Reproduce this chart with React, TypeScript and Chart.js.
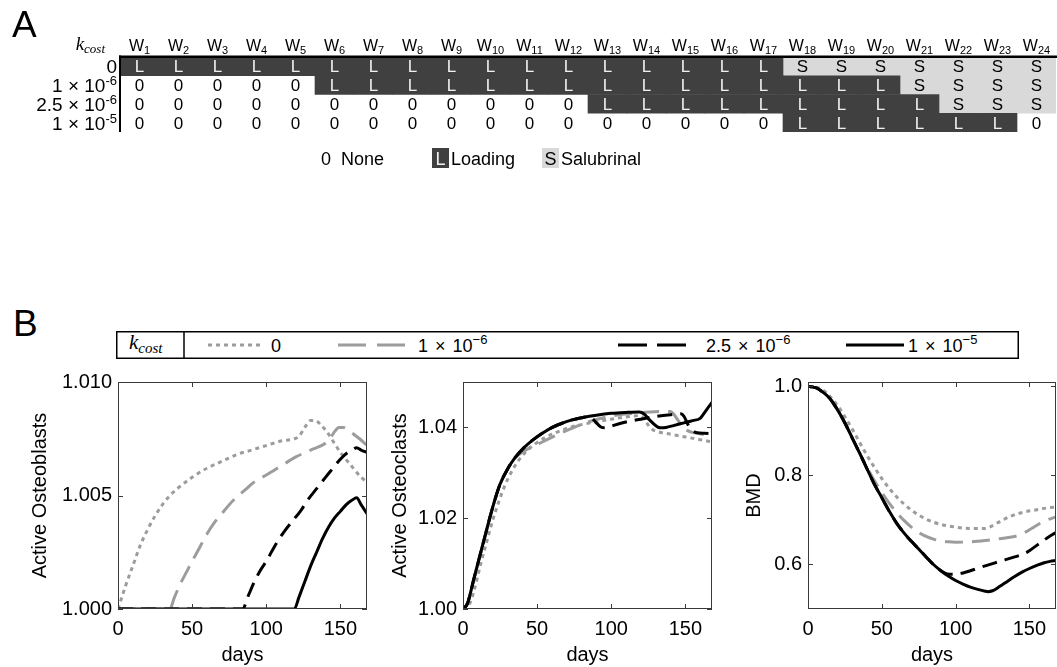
import React, { useEffect, useRef } from 'react';
import { Chart, registerables } from 'chart.js';

Chart.register(...registerables);

const SANS = '"Liberation Sans", Arial, Helvetica, sans-serif';
const SERIF = '"Liberation Serif", "DejaVu Serif", "Times New Roman", serif';

// ---------------- Panel A data ----------------
const WEEK_NUMBERS = [1, 2, 3, 4, 5, 6, 7, 8, 9, 10, 11, 12, 13, 14, 15, 16, 17, 18, 19, 20, 21, 22, 23, 24];
const K_COST_BASES = ['0', '1 × 10', '2.5 × 10', '1 × 10'];
const K_COST_EXPONENTS = ['', '-6', '-6', '-5'];
const PLAN_K_0 = ['L', 'L', 'L', 'L', 'L', 'L', 'L', 'L', 'L', 'L', 'L', 'L', 'L', 'L', 'L', 'L', 'L', 'S', 'S', 'S', 'S', 'S', 'S', 'S'];
const PLAN_K_1E6 = ['0', '0', '0', '0', '0', 'L', 'L', 'L', 'L', 'L', 'L', 'L', 'L', 'L', 'L', 'L', 'L', 'L', 'L', 'L', 'S', 'S', 'S', 'S'];
const PLAN_K_2_5E6 = ['0', '0', '0', '0', '0', '0', '0', '0', '0', '0', '0', '0', 'L', 'L', 'L', 'L', 'L', 'L', 'L', 'L', 'L', 'S', 'S', 'S'];
const PLAN_K_1E5 = ['0', '0', '0', '0', '0', '0', '0', '0', '0', '0', '0', '0', '0', '0', '0', '0', '0', 'L', 'L', 'L', 'L', 'L', 'L', '0'];
const PLANS = [PLAN_K_0, PLAN_K_1E6, PLAN_K_2_5E6, PLAN_K_1E5];
const LEGEND_CODES = ['0', 'L', 'S'];
const LEGEND_NAMES = ['None', 'Loading', 'Salubrinal'];

// ---------------- Panel B data ----------------
const X_TICKS = [0, 50, 100, 150];
const DAYS_MAX = 168;
const SERIES_BASES = ['0', '1 × 10', '2.5 × 10', '1 × 10'];
const SERIES_EXPONENTS = ['', '−6', '−6', '−5'];

const OB_K0 = [[0, 1.0], [2, 1.0004], [5, 1.001], [10, 1.0019], [15, 1.0028], [20, 1.0035], [25, 1.0041], [30, 1.0046], [35, 1.005], [40, 1.0053], [50, 1.0058], [60, 1.0062], [70, 1.0065], [80, 1.0068], [90, 1.007], [100, 1.0072], [110, 1.0074], [119, 1.0075], [122, 1.0076], [126, 1.008], [130, 1.0083], [133, 1.0083], [137, 1.0081], [141, 1.0078], [146, 1.0073], [150, 1.0069], [155, 1.0065], [160, 1.0061], [164, 1.0058], [168, 1.0056]];
const OB_K1E6 = [[0, 1], [35, 1], [38, 1.0005], [42, 1.0011], [46, 1.0016], [50, 1.0021], [55, 1.0027], [60, 1.0033], [65, 1.0038], [70, 1.0042], [78, 1.0048], [85, 1.0052], [92, 1.0056], [100, 1.0059], [110, 1.0063], [120, 1.0067], [130, 1.007], [140, 1.0073], [143, 1.0075], [146, 1.0078], [149, 1.008], [152, 1.008], [155, 1.0079], [159, 1.0077], [163, 1.0075], [168, 1.0072]];
const OB_K2_5E6 = [[0, 1], [84, 1], [88, 1.0006], [92, 1.0012], [96, 1.0017], [100, 1.0021], [106, 1.0028], [112, 1.0034], [118, 1.0039], [123, 1.0043], [128, 1.0048], [134, 1.0053], [140, 1.0058], [145, 1.0062], [150, 1.0066], [155, 1.0069], [158, 1.007], [161, 1.0071], [164, 1.007], [168, 1.0069]];
const OB_K1E5 = [[0, 1], [119, 1], [122, 1.0005], [126, 1.0012], [130, 1.0019], [134, 1.0025], [138, 1.0031], [142, 1.0036], [146, 1.004], [150, 1.0043], [154, 1.0046], [158, 1.0048], [161, 1.0049], [164, 1.0046], [168, 1.0042]];

const OC_K0 = [[0, 1.0], [3, 1.0005], [5, 1.0015], [7, 1.0035], [9, 1.006], [12, 1.01], [16, 1.0148], [20, 1.0195], [24, 1.0235], [28, 1.027], [32, 1.0298], [37, 1.0325], [42, 1.0345], [48, 1.0362], [55, 1.0377], [63, 1.0389], [72, 1.04], [86, 1.041], [100, 1.0418], [110, 1.0423], [119, 1.0426], [122, 1.042], [125, 1.0405], [128, 1.0395], [132, 1.039], [140, 1.0385], [150, 1.0379], [160, 1.0373], [168, 1.0368]];
const OC_K1E6 = [[0, 1.0], [3, 1.0012], [5, 1.0035], [7, 1.0062], [10, 1.01], [14, 1.015], [18, 1.02], [21, 1.0235], [25, 1.0275], [30, 1.0308], [35, 1.0333], [40, 1.0345], [45, 1.0355], [50, 1.0362], [56, 1.0372], [63, 1.0383], [72, 1.0396], [81, 1.0408], [92, 1.0419], [104, 1.0427], [115, 1.0431], [126, 1.0434], [133, 1.0435], [140, 1.0435], [142, 1.043], [145, 1.0416], [148, 1.0403], [151, 1.0394], [156, 1.0388], [162, 1.0385], [168, 1.0383]];
const OC_K2_5E6 = [[0, 1.0], [3, 1.0012], [5, 1.0035], [7, 1.0062], [10, 1.01], [14, 1.015], [18, 1.02], [21, 1.0235], [25, 1.0275], [30, 1.0308], [35, 1.0333], [41, 1.0355], [47, 1.0372], [53, 1.0386], [59, 1.0398], [66, 1.0408], [73, 1.0416], [81, 1.0422], [84, 1.0424], [87, 1.042], [90, 1.041], [93, 1.0401], [96, 1.0399], [100, 1.0403], [110, 1.0412], [120, 1.0418], [130, 1.0424], [140, 1.0428], [147, 1.043], [149, 1.0425], [152, 1.0405], [155, 1.0393], [158, 1.0388], [163, 1.0387], [168, 1.0386]];
const OC_K1E5 = [[0, 1.0], [3, 1.0012], [5, 1.0035], [7, 1.0062], [10, 1.01], [14, 1.015], [18, 1.02], [21, 1.0235], [25, 1.0275], [30, 1.0308], [35, 1.0333], [41, 1.0355], [47, 1.0372], [53, 1.0386], [59, 1.0398], [66, 1.0408], [73, 1.0416], [81, 1.0422], [90, 1.0427], [100, 1.0431], [110, 1.0433], [119, 1.0434], [122, 1.043], [126, 1.0416], [130, 1.0404], [133, 1.0399], [137, 1.04], [142, 1.0404], [149, 1.041], [155, 1.0415], [160, 1.042], [162, 1.0428], [165, 1.0442], [168, 1.0455]];

const BMD_K0 = [[0, 1.0], [3, 0.9995], [6, 0.998], [9, 0.994], [12, 0.987], [15, 0.977], [20, 0.957], [25, 0.932], [30, 0.904], [35, 0.874], [40, 0.845], [45, 0.818], [50, 0.793], [55, 0.771], [60, 0.752], [65, 0.736], [70, 0.722], [75, 0.711], [80, 0.702], [85, 0.695], [90, 0.69], [100, 0.684], [110, 0.681], [119, 0.681], [123, 0.684], [127, 0.691], [132, 0.7], [137, 0.708], [142, 0.714], [148, 0.719], [155, 0.723], [162, 0.727], [168, 0.729]];
const BMD_K1E6 = [[0, 1.0], [3, 0.999], [6, 0.996], [9, 0.99], [12, 0.982], [15, 0.972], [18, 0.958], [21, 0.942], [25, 0.918], [30, 0.884], [35, 0.85], [40, 0.818], [45, 0.788], [50, 0.762], [55, 0.738], [60, 0.717], [65, 0.699], [70, 0.684], [75, 0.672], [80, 0.663], [85, 0.657], [90, 0.653], [95, 0.651], [100, 0.65], [110, 0.651], [120, 0.654], [130, 0.658], [140, 0.663], [143, 0.666], [147, 0.672], [152, 0.682], [157, 0.692], [162, 0.7], [168, 0.707]];
const BMD_K2_5E6 = [[0, 1.0], [3, 0.999], [6, 0.996], [9, 0.99], [12, 0.982], [15, 0.972], [18, 0.958], [21, 0.942], [25, 0.918], [30, 0.884], [35, 0.85], [40, 0.815], [45, 0.78], [50, 0.75], [55, 0.72], [60, 0.693], [65, 0.671], [70, 0.652], [75, 0.635], [80, 0.617], [84, 0.603], [88, 0.591], [92, 0.582], [96, 0.578], [100, 0.578], [105, 0.581], [110, 0.586], [120, 0.597], [130, 0.607], [140, 0.617], [147, 0.625], [150, 0.631], [155, 0.643], [160, 0.655], [164, 0.664], [168, 0.672]];
const BMD_K1E5 = [[0, 1.0], [3, 0.999], [6, 0.996], [9, 0.99], [12, 0.982], [15, 0.972], [18, 0.958], [21, 0.942], [25, 0.918], [30, 0.884], [35, 0.85], [40, 0.815], [45, 0.78], [50, 0.75], [55, 0.72], [60, 0.693], [65, 0.671], [70, 0.652], [75, 0.635], [80, 0.617], [85, 0.6], [90, 0.586], [95, 0.574], [100, 0.564], [105, 0.556], [110, 0.549], [115, 0.544], [120, 0.54], [122, 0.539], [125, 0.541], [130, 0.551], [135, 0.562], [140, 0.573], [145, 0.583], [150, 0.591], [155, 0.598], [160, 0.604], [164, 0.607], [168, 0.609]];

// ---------------- styles ----------------
const GRAY = '#9c9c9c';
const STYLE_K0 = { color: GRAY, dash: [4, 4], legendDash: '4 4' };
const STYLE_K1E6 = { color: GRAY, dash: [18, 9], legendDash: '28 11' };
const STYLE_K2_5E6 = { color: '#000000', dash: [15, 8], legendDash: '29 10' };
const STYLE_K1E5 = { color: '#000000', dash: [] as number[], legendDash: '' };
const SERIES_STYLES = [STYLE_K0, STYLE_K1E6, STYLE_K2_5E6, STYLE_K1E5];

const CELL_COLORS: Record<string, string> = { L: '#404040', S: '#d9d9d9', '0': 'rgba(255,255,255,0)' };
const CELL_TEXT: Record<string, string> = { L: '#f0f0f0', S: '#000000', '0': '#000000' };

type Part = { text: string; size: number; dy?: number; family?: string; italic?: boolean };

function drawParts(ctx: CanvasRenderingContext2D, parts: Part[], x: number, baseline: number, align: 'left' | 'center' | 'right') {
  const fontOf = (p: Part) => `${p.italic ? 'italic ' : ''}${p.size}px ${p.family || SANS}`;
  let total = 0;
  const widths = parts.map((p) => {
    ctx.font = fontOf(p);
    const w = ctx.measureText(p.text).width;
    total += w;
    return w;
  });
  let cx = align === 'left' ? x : align === 'center' ? x - total / 2 : x - total;
  ctx.textAlign = 'left';
  ctx.textBaseline = 'alphabetic';
  parts.forEach((p, i) => {
    ctx.font = fontOf(p);
    ctx.fillText(p.text, cx, baseline + (p.dy || 0));
    cx += widths[i];
  });
}

const scheduleDecor = {
  id: 'scheduleDecor',
  afterDatasetsDraw(chart: any) {
    const ctx: CanvasRenderingContext2D = chart.ctx;
    const xs = chart.scales.x;
    const ys = chart.scales.y;
    const area = chart.chartArea;
    ctx.save();
    chart.data.datasets.forEach((_ds: any, w: number) => {
      const meta = chart.getDatasetMeta(w);
      meta.data.forEach((el: any, r: number) => {
        const code = PLANS[r][w];
        ctx.fillStyle = CELL_TEXT[code];
        drawParts(ctx, [{ text: code, size: 17 }], (el.x + el.base) / 2, el.y + 6, 'center');
      });
    });
    ctx.fillStyle = '#000';
    ctx.fillRect(area.left - 1, area.top - 1.5, area.right - area.left + 2, 2.5);
    ctx.fillRect(area.left - 1, area.top - 1.5, 2, area.bottom - area.top + 1.5);
    WEEK_NUMBERS.forEach((n, w) => {
      const cx = xs.getPixelForValue(w + 0.5);
      drawParts(ctx, [{ text: 'W', size: 16 }, { text: String(n), size: 11, dy: 3 }], cx, area.top - 6, 'center');
    });
    drawParts(ctx, [{ text: 'k', size: 19, family: SERIF, italic: true }, { text: 'cost', size: 13, family: SERIF, italic: true, dy: 3 }], 105, area.top - 7, 'right');
    K_COST_BASES.forEach((b, r) => {
      const cy = ys.getPixelForValue(r);
      const parts: Part[] = [{ text: b, size: 19 }];
      if (K_COST_EXPONENTS[r]) parts.push({ text: K_COST_EXPONENTS[r], size: 13, dy: -7 });
      drawParts(ctx, parts, area.left - 3, cy + 7, 'right');
    });
    const ly = 158;
    LEGEND_CODES.forEach((code, i) => {
      ctx.fillStyle = '#000';
      if (code === '0') {
        drawParts(ctx, [{ text: code, size: 18 }], 326, ly + 6.5, 'center');
        drawParts(ctx, [{ text: LEGEND_NAMES[i], size: 18 }], 341, ly + 6.5, 'left');
      } else {
        const x0 = code === 'L' ? 432 : 542;
        ctx.fillStyle = CELL_COLORS[code];
        ctx.fillRect(x0, ly - 10, 17, 20);
        ctx.fillStyle = CELL_TEXT[code];
        drawParts(ctx, [{ text: code, size: 18 }], x0 + 8.5, ly + 6.5, 'center');
        ctx.fillStyle = '#000';
        drawParts(ctx, [{ text: LEGEND_NAMES[i], size: 18 }], x0 + 19, ly + 6.5, 'left');
      }
    });
    ctx.fillStyle = '#000';
    drawParts(ctx, [{ text: 'A', size: 37 }], 12, 37, 'left');
    ctx.restore();
  },
};

function makeScheduleChart(canvas: HTMLCanvasElement) {
  const datasets = WEEK_NUMBERS.map((n, w) => ({
    label: 'W' + n,
    data: PLANS.map(() => [w, w + 1]),
    backgroundColor: PLANS.map((p) => CELL_COLORS[p[w]]),
    borderWidth: 0,
    barPercentage: 1,
    categoryPercentage: 1,
    grouped: false,
  }));
  return new Chart(canvas, {
    type: 'bar',
    data: { labels: K_COST_BASES.map((b, i) => b + K_COST_EXPONENTS[i] + '#' + i), datasets: datasets as any },
    options: {
      indexAxis: 'y',
      animation: false,
      responsive: false,
      devicePixelRatio: 1,
      events: [],
      layout: { padding: { left: 120, right: 1, top: 57, bottom: 68 } },
      plugins: { legend: { display: false }, tooltip: { enabled: false } },
      scales: {
        x: { type: 'linear', min: 0, max: 24, display: false },
        y: { type: 'category', display: false, offset: true },
      },
    } as any,
    plugins: [scheduleDecor],
  });
}

const axesBox = {
  id: 'axesBox',
  afterDatasetsDraw(chart: any) {
    const ctx: CanvasRenderingContext2D = chart.ctx;
    const { left, right, top, bottom } = chart.chartArea;
    const xs = chart.scales.x;
    const ys = chart.scales.y;
    ctx.save();
    ctx.strokeStyle = '#3a3a3a';
    ctx.lineWidth = 1;
    ctx.strokeRect(left + 0.5, top + 0.5, right - left - 1, bottom - top - 1);
    ctx.beginPath();
    xs.ticks.forEach((t: any) => {
      const px = Math.round(xs.getPixelForValue(t.value)) + 0.5;
      ctx.moveTo(px, bottom); ctx.lineTo(px, bottom - 5);
      ctx.moveTo(px, top); ctx.lineTo(px, top + 5);
    });
    ys.ticks.forEach((t: any) => {
      const py = Math.round(ys.getPixelForValue(t.value)) + 0.5;
      ctx.moveTo(left, py); ctx.lineTo(left + 5, py);
      ctx.moveTo(right, py); ctx.lineTo(right - 5, py);
    });
    ctx.stroke();
    ctx.restore();
  },
};

type LineSpec = {
  series: number[][][];
  yMin: number;
  yMax: number;
  yTicks: number[];
  decimals: number;
  yTitle: string;
  yAxisWidth: number;
  titlePad: number;
  padRight: number;
};

function makeLineChart(canvas: HTMLCanvasElement, spec: LineSpec) {
  const font = { family: SANS, size: 20 };
  const order = [3, 2, 1, 0];
  const datasets = order.map((i) => ({
    label: SERIES_BASES[i] + SERIES_EXPONENTS[i],
    data: spec.series[i].map(([x, y]) => ({ x, y })),
    borderColor: SERIES_STYLES[i].color,
    borderDash: SERIES_STYLES[i].dash,
    borderWidth: 3,
    pointRadius: 0,
    fill: false,
    cubicInterpolationMode: 'monotone',
    borderCapStyle: 'butt',
    borderJoinStyle: 'round',
  }));
  return new Chart(canvas, {
    type: 'line',
    data: { datasets: datasets as any },
    options: {
      animation: false,
      responsive: false,
      devicePixelRatio: 1,
      events: [],
      layout: { padding: { left: 0, right: spec.padRight, top: 20, bottom: 0 } },
      plugins: { legend: { display: false }, tooltip: { enabled: false } },
      scales: {
        x: {
          type: 'linear',
          min: 0,
          max: DAYS_MAX,
          grid: { display: false, drawTicks: false },
          border: { display: false },
          afterBuildTicks: (s: any) => { s.ticks = X_TICKS.map((v) => ({ value: v })); },
          ticks: { font, color: '#000', padding: 8, maxRotation: 0, autoSkip: false, callback: (v: any) => String(v) },
          title: { display: true, text: 'days', font, color: '#000', padding: { top: 0, bottom: 0 } },
          afterFit: (s: any) => { s.height = 58; },
        },
        y: {
          type: 'linear',
          min: spec.yMin,
          max: spec.yMax,
          grid: { display: false, drawTicks: false },
          border: { display: false },
          afterBuildTicks: (s: any) => { s.ticks = spec.yTicks.map((v) => ({ value: v })); },
          ticks: { font, color: '#000', padding: 6, autoSkip: false, callback: (v: any) => Number(v).toFixed(spec.decimals) },
          title: { display: true, text: spec.yTitle, font, color: '#000', padding: { top: spec.titlePad, bottom: 0 } },
          afterFit: (s: any) => { s.width = spec.yAxisWidth; },
        },
      },
    } as any,
    plugins: [axesBox],
  });
}

function LegendB() {
  const sampleX = [[92, 148], [222, 289], [502, 570], [730, 788]];
  const textX = [155, 302, 590, 792];
  const lineY = 14;
  const baseY = 21;
  return (
    <svg width={904} height={28} style={{ position: 'absolute', left: 116, top: 331 }}>
      <rect x={0.75} y={0.75} width={901.5} height={26.5} fill="#fff" stroke="#000" strokeWidth={1.5} />
      <line x1={68} y1={0} x2={68} y2={28} stroke="#000" strokeWidth={1.5} />
      <text x={13} y={18} fontFamily={SERIF} fontStyle="italic" fontSize={21}>
        k<tspan fontSize={15} dy={4}>cost</tspan>
      </text>
      {SERIES_STYLES.map((st, i) => (
        <g key={i}>
          <line x1={sampleX[i][0]} y1={lineY} x2={sampleX[i][1]} y2={lineY} stroke={st.color} strokeWidth={3}
            strokeDasharray={st.legendDash || undefined} />
          <text x={textX[i]} y={baseY} fontFamily={SANS} fontSize={18} wordSpacing={2}>
            {SERIES_BASES[i]}
            {SERIES_EXPONENTS[i] ? <tspan fontSize={13} dy={-8}>{SERIES_EXPONENTS[i]}</tspan> : null}
          </text>
        </g>
      ))}
    </svg>
  );
}

export default function App() {
  const aRef = useRef<HTMLCanvasElement>(null);
  const ob = useRef<HTMLCanvasElement>(null);
  const oc = useRef<HTMLCanvasElement>(null);
  const bmd = useRef<HTMLCanvasElement>(null);

  useEffect(() => {
    const charts: Chart[] = [];
    charts.push(makeScheduleChart(aRef.current!));
    charts.push(makeLineChart(ob.current!, {
      series: [OB_K0, OB_K1E6, OB_K2_5E6, OB_K1E5], yMin: 1.0, yMax: 1.01, yTicks: [1.0, 1.005, 1.01], decimals: 3,
      yTitle: 'Active Osteoblasts', yAxisWidth: 118, titlePad: 28, padRight: 13,
    }));
    charts.push(makeLineChart(oc.current!, {
      series: [OC_K0, OC_K1E6, OC_K2_5E6, OC_K1E5], yMin: 1.0, yMax: 1.05, yTicks: [1.0, 1.02, 1.04], decimals: 2,
      yTitle: 'Active Osteoclasts', yAxisWidth: 83, titlePad: 8, padRight: 8,
    }));
    charts.push(makeLineChart(bmd.current!, {
      series: [BMD_K0, BMD_K1E6, BMD_K2_5E6, BMD_K1E5], yMin: 0.5, yMax: 1.01, yTicks: [0.6, 0.8, 1.0], decimals: 1,
      yTitle: 'BMD', yAxisWidth: 88, titlePad: 22, padRight: 1,
    }));
    return () => charts.forEach((c) => c.destroy());
  }, []);

  return (
    <div style={{ position: 'relative', width: 1057, height: 667, background: '#fff', overflow: 'hidden' }}>
      <style>{'body{margin:0;background:#fff;}'}</style>
      <canvas ref={aRef} width={1057} height={200} style={{ position: 'absolute', left: 0, top: 0 }} />
      <div style={{ position: 'absolute', left: 13, top: 305, fontFamily: SANS, fontSize: 37, lineHeight: '37px' }}>B</div>
      <LegendB />
      <canvas ref={ob} width={380} height={305} style={{ position: 'absolute', left: 0, top: 362 }} />
      <canvas ref={oc} width={340} height={305} style={{ position: 'absolute', left: 380, top: 362 }} />
      <canvas ref={bmd} width={337} height={305} style={{ position: 'absolute', left: 720, top: 362 }} />
    </div>
  );
}
